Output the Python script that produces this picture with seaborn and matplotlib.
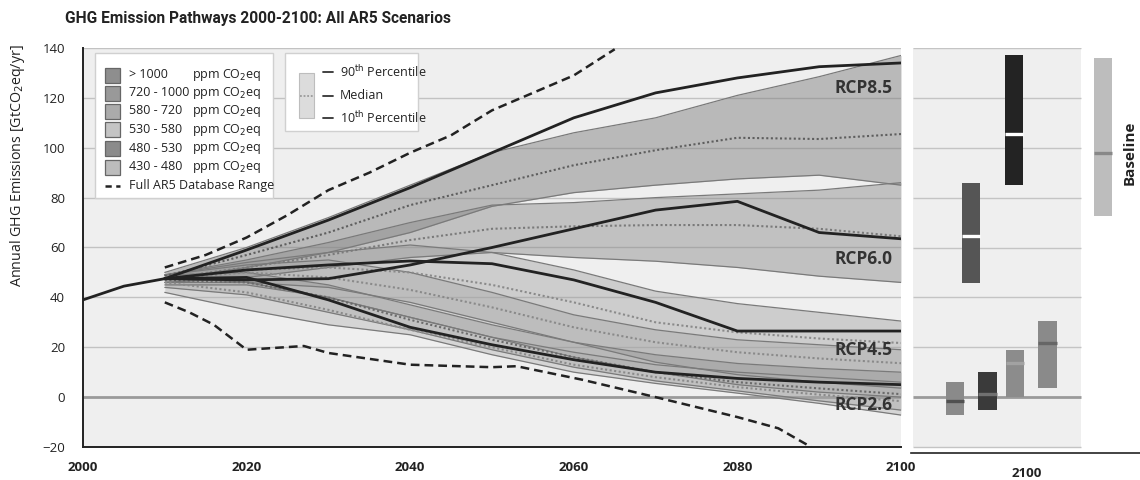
import matplotlib
matplotlib.use("Agg")
import matplotlib.pyplot as plt
from matplotlib.patches import Rectangle
from matplotlib.lines import Line2D
import seaborn as sns
import numpy as np

sns.set_style("white")
plt.rcParams['font.family'] = ['Open Sans', 'DejaVu Sans']

# ---------------- data ----------------
hist_years = [2000, 2005, 2010]
hist_vals = [39, 44.5, 47.5]

rcp_years = [2010, 2020, 2030, 2040, 2050, 2060, 2070, 2080, 2090, 2100]
rcp85 = [47.5, 59, 71, 84, 98, 112, 122, 128, 132.5, 134]
rcp60 = [47.5, 47, 47.5, 53, 60, 67.5, 75, 78.5, 66, 63.5]
rcp45 = [47.5, 51, 53, 54.6, 53.5, 47, 38, 26.5, 26.5, 26.5]
rcp26 = [47.5, 48, 39, 28, 21, 15, 10, 7.5, 6, 5]

band_years = [2010, 2020, 2030, 2040, 2050, 2060, 2070, 2080, 2090, 2100]
cat_labels = ["> 1000", "720 - 1000", "580 - 720", "530 - 580", "480 - 530", "430 - 480"]
# 90th percentile, median, 10th percentile per category
c1000_hi = [50, 60, 72, 85, 98, 106, 112, 121, 128.5, 137]
c1000_md = [48.5, 57, 66, 77, 85, 93, 99, 104, 103.5, 105.5]
c1000_lo = [47, 52, 58, 66, 76.5, 82, 85, 87.5, 89, 85]
c720_hi = [49, 55, 62, 70, 77, 78, 80, 81.5, 83, 86]
c720_md = [47.5, 52, 57, 63, 67.5, 68.5, 69, 69, 67.5, 64.5]
c720_lo = [46, 48, 52, 56, 58, 56, 54.5, 52, 48.5, 46]
c580_hi = [49, 54, 58, 61, 58, 51, 42.5, 37.5, 34, 30.5]
c580_md = [48, 51, 52, 50, 45, 38, 30, 26, 23.5, 21.7]
c580_lo = [46, 46, 44, 38, 30, 22, 14, 9, 6, 3.6]
c530_hi = [49, 53, 55, 50, 42, 33, 27, 23, 21, 19]
c530_md = [47.5, 50, 48, 43, 36, 28, 22, 18, 15.5, 13.6]
c530_lo = [45, 45, 40, 32, 24, 16, 10, 5, 2, 0]
c480_hi = [49, 50, 45, 37, 29, 22, 17, 13.5, 11.5, 10]
c480_md = [47, 46, 40, 31, 23, 16, 10, 6, 3.5, 1.2]
c480_lo = [44, 41, 34, 27, 19, 12, 6.5, 2.5, -1.5, -5.2]
c430_hi = [48, 46, 40, 32, 24, 18, 13, 10, 8, 6]
c430_md = [46, 42, 35, 27, 20, 13, 8, 4, 1, -1.6]
c430_lo = [42, 35, 29, 25, 17, 10, 5.5, 1.6, -2.5, -7.2]

db_hi_years = [2010, 2015, 2020, 2025, 2030, 2035, 2040, 2045, 2050, 2055, 2060, 2065]
db_hi = [52, 57, 64, 73, 83, 90, 98, 105, 115, 122, 129, 139.5]
db_lo_years = [2010, 2013, 2016, 2020, 2027, 2030, 2040, 2050, 2053, 2061, 2070, 2080, 2085, 2089]
db_lo = [38, 34, 29, 19, 20.5, 17.7, 13, 12, 12.4, 7, 0, -8, -12.5, -20]

# right panel: 2100 ranges
bar_names = ["430-480", "480-530", "530-580", "580-720", "720-1000", ">1000", "Baseline"]
bar_lo = [-7.2, -5.2, 0, 3.6, 45.8, 85, 72.7]
bar_hi = [6, 10, 19, 30.5, 86, 137.3, 136]
bar_md = [-1.6, 1.2, 13.6, 21.7, 64.7, 105.6, 98]

# ---------------- styles ----------------
W, H = 1140, 480
fig = plt.figure(figsize=(W / 100, H / 100), dpi=100)
fig.patch.set_facecolor("white")

def fx(px):
    return px / W

def fy(py):
    return 1 - py / H

ax = fig.add_axes([fx(83), fy(447), (901 - 83) / W, (447 - 48) / H])
ax.set_facecolor("#efefef")
ax.set_xlim(2000, 2100)
ax.set_ylim(-20, 140)

for v in range(-20, 141, 20):
    if v == 0:
        ax.axhline(v, color="#9a9a9a", lw=2.0, zorder=1)
    else:
        ax.axhline(v, color="#c2c2c2", lw=1.0, zorder=1)

bands = [
    (c1000_lo, c1000_md, c1000_hi, "#7e7e7e", 0.48, "#5e5e5e"),
    (c720_lo, c720_md, c720_hi, "#8a8a8a", 0.45, "#7a7a7a"),
    (c580_lo, c580_md, c580_hi, "#9a9a9a", 0.40, "#8a8a8a"),
    (c530_lo, c530_md, c530_hi, "#a5a5a5", 0.38, "#8a8a8a"),
    (c480_lo, c480_md, c480_hi, "#8a8a8a", 0.35, "#6a6a6a"),
    (c430_lo, c430_md, c430_hi, "#b0b0b0", 0.40, "#8a8a8a"),
]
for lo, md, hi, col, a, mcol in bands:
    ax.fill_between(band_years, lo, hi, color=col, alpha=a, lw=0, zorder=2)
    ax.plot(band_years, lo, color="#7a7a7a", lw=0.9, zorder=3)
    ax.plot(band_years, hi, color="#7a7a7a", lw=0.9, zorder=3)
for lo, md, hi, col, a, mcol in bands:
    ax.plot(band_years, md, color=mcol, lw=1.5, ls=(0, (1, 1.2)), zorder=4)

sns.lineplot(x=hist_years, y=hist_vals, ax=ax, color="#222222", lw=2.0, zorder=6)
for series in (rcp85, rcp60, rcp45, rcp26):
    sns.lineplot(x=rcp_years, y=series, ax=ax, color="#222222", lw=2.0, zorder=6)
sns.lineplot(x=db_hi_years, y=db_hi, ax=ax, color="#222222", lw=1.8, ls=(0, (3.5, 2)), zorder=6)
sns.lineplot(x=db_lo_years, y=db_lo, ax=ax, color="#222222", lw=1.8, ls=(0, (3.5, 2)), zorder=6)

for name, yv in (("RCP8.5", 124), ("RCP6.0", 55.4), ("RCP4.5", 18.9), ("RCP2.6", -3.2)):
    ax.text(2099, yv, name, ha="right", va="center", fontsize=12.5,
            fontweight="bold", color="#333333", zorder=8)

ax.set_xticks(range(2000, 2101, 20))
ax.set_yticks(range(-20, 141, 20))
ax.set_xticklabels([str(v) for v in range(2000, 2101, 20)], fontweight="bold")
ax.tick_params(axis="x", length=4, width=1.2, pad=6, labelsize=9.5, colors="#222")
ax.tick_params(axis="y", length=3, width=1.0, pad=10, labelsize=9.5, colors="#222")
for s in ("top", "right"):
    ax.spines[s].set_visible(False)
for s in ("left", "bottom"):
    ax.spines[s].set_color("#222")
    ax.spines[s].set_linewidth(1.4)
ax.set_xlabel("")
ax.set_ylabel("Annual GHG Emissions [GtCO$_2$eq/yr]", fontsize=10.3, color="#222")
ax.yaxis.set_label_coords(-0.069, 0.704)

# ---------------- right panel ----------------
axr = fig.add_axes([fx(911), fy(453), (1140 - 911) / W, (453 - 48) / H])
axr.set_xlim(0, 1)
axr.set_ylim(-20 - 6 / 2.494, 140)
axr.set_facecolor("white")
axr.add_patch(Rectangle((0.009, -20), 0.733, 160, color="#efefef", lw=0, zorder=0))
for v in range(-20, 141, 20):
    axr.hlines(v, 0.009, 0.742, color="#9a9a9a" if v == 0 else "#c4c4c4",
               lw=2.0 if v == 0 else 1.0, zorder=1)
bar_x = [0.192, 0.334, 0.456, 0.596, 0.262, 0.450, 0.838]
bar_w = 0.079
bar_col = ["#8a8a8a", "#3a3a3a", "#8c8c8c", "#8a8a8a", "#555555", "#232323", "#bdbdbd"]
med_col = ["#505050", "#707070", "#a2a2a2", "#666666", "white", "white", "#888888"]
axr.bar(bar_x, np.array(bar_hi) - np.array(bar_lo), bottom=bar_lo, width=bar_w,
        color=bar_col, lw=0, zorder=3)
for x, m, c in zip(bar_x, bar_md, med_col):
    axr.hlines(m, x - bar_w / 2, x + bar_w / 2, color=c, lw=2.4, zorder=4)
axr.text(0.955, 98, "Baseline", rotation=90, ha="center", va="center",
         fontsize=11, fontweight="bold", color="#222")
axr.set_xticks([0.507])
axr.set_xticklabels(["2100"], fontweight="bold")
axr.set_yticks([])
axr.tick_params(axis="x", length=4, width=1.0, pad=6, labelsize=9.5, colors="#222")
for s in ("top", "right", "left"):
    axr.spines[s].set_visible(False)
axr.spines["bottom"].set_color("#222")
axr.spines["bottom"].set_linewidth(1.2)

# ---------------- title ----------------
fig.text(fx(65), fy(18), "GHG Emission Pathways 2000-2100: All AR5 Scenarios",
         fontsize=11.2, fontweight="bold", color="#222", ha="left", va="center",
         family=['Roboto', 'DejaVu Sans'])

# ---------------- legend 1 ----------------
def frect(x0, y0, x1, y1, **kw):
    r = Rectangle((fx(x0), fy(y1)), (x1 - x0) / W, (y1 - y0) / H,
                  transform=fig.transFigure, **kw)
    fig.add_artist(r)

frect(95, 53, 273, 198, facecolor="white", edgecolor="#d0d0d0", lw=1.0, zorder=10)
leg_cols = ["#8e8e8e", "#999999", "#ababab", "#c4c4c4", "#8b8b8b", "#bcbcbc"]
leg_y = [75, 93, 111, 130, 148, 167]
for lab, c, yy in zip(cat_labels, leg_cols, leg_y):
    frect(105, yy - 7.5, 120, yy + 7.5, facecolor=c, edgecolor="#666666", lw=0.9, zorder=11)
    fig.text(fx(129), fy(yy), lab, fontsize=9, color="#222", va="center", ha="left", zorder=12)
    fig.text(fx(192), fy(yy), "ppm CO$_2$eq", fontsize=9, color="#222", va="center", ha="left", zorder=12)
fig.add_artist(Line2D([fx(105), fx(120)], [fy(186), fy(186)], transform=fig.transFigure,
                      color="#222", lw=1.8, ls=(0, (2.5, 1.8)), zorder=12))
fig.text(fx(129), fy(186), "Full AR5 Database Range", fontsize=9, color="#222",
         va="center", ha="left", zorder=12)

# ---------------- legend 2 ----------------
frect(285, 53, 418, 131, facecolor="white", edgecolor="#d0d0d0", lw=1.0, zorder=10)
frect(299, 73, 314, 118, facecolor="#dcdcdc", edgecolor="#bdbdbd", lw=0.8, zorder=11)
fig.add_artist(Line2D([fx(300), fx(313)], [fy(95.5), fy(95.5)], transform=fig.transFigure,
                      color="#9a9a9a", lw=1.3, ls=(0, (1, 1)), zorder=12))
for yy, lab in ((72, r"90$^{\mathrm{th}}$ Percentile"), (95.5, "Median"),
                (118, r"10$^{\mathrm{th}}$ Percentile")):
    fig.add_artist(Line2D([fx(323), fx(333)], [fy(yy), fy(yy)], transform=fig.transFigure,
                          color="#333", lw=1.3, zorder=12))
    fig.text(fx(340), fy(yy), lab, fontsize=9, color="#222", va="center", ha="left", zorder=12)

fig.savefig("out.png", dpi=100, facecolor="white")
